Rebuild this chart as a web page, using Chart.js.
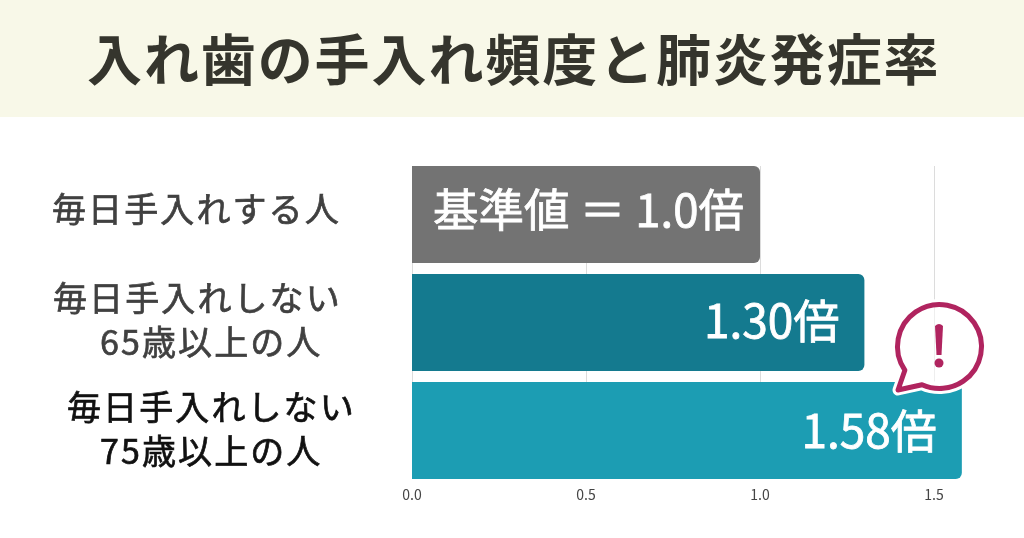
<!DOCTYPE html>
<html lang="ja">
<head>
<meta charset="utf-8">
<title>入れ歯の手入れ頻度と肺炎発症率</title>
<script src="https://cdn.jsdelivr.net/npm/chart.js@4"></script>
<style>
    html, body { margin: 0; padding: 0; background: #fff; }
    #wrap { width: 1024px; height: 538px; position: relative; }
    canvas { display: block; }
</style>
</head>
<body>
<div id="wrap"><canvas id="chart" width="1024" height="538"></canvas></div>
<script>
const titleText = '入れ歯の手入れ頻度と肺炎発症率';
const categories = [
    ['毎日手入れする人'],
    ['毎日手入れしない', '65歳以上の人'],
    ['毎日手入れしない', '75歳以上の人']
];
const values = [1.0, 1.30, 1.58];
const barColors = ['#737373', '#147a8f', '#1c9db3'];
const barLabels = ['基準値 ＝ 1.0倍', '1.30倍', '1.58倍'];
const tickValues = [0, 0.5, 1.0, 1.5];

const JP = '"Noto Sans CJK JP", "Noto Sans", sans-serif';

// 帯とタイトル
const bandPlugin = {
    id: 'band',
    beforeDraw(chart) {
        const ctx = chart.ctx;
        ctx.save();
        ctx.fillStyle = '#f8f8e8';
        ctx.fillRect(0, 0, 1024, 117);
        ctx.fillStyle = '#35352d';
        ctx.font = `700 55px ${JP}`;
        ctx.letterSpacing = '1.9px';
        ctx.textAlign = 'left';
        ctx.textBaseline = 'middle';
        ctx.fillText(titleText, 87, 59);
        ctx.restore();
    }
};

// 目盛線はバーの上端から下端まで
const gridPlugin = {
    id: 'gridClip',
    beforeDatasetsDraw(chart) {
        const ctx = chart.ctx;
        const x = chart.scales.x;
        ctx.save();
        ctx.strokeStyle = '#dcdcdc';
        ctx.lineWidth = 1;
        tickValues.forEach(v => {
            const px = Math.round(x.getPixelForValue(v)) + 0.5;
            ctx.beginPath();
            ctx.moveTo(px, 166);
            ctx.lineTo(px, 479);
            ctx.stroke();
        });
        ctx.restore();
    }
};

// カテゴリ名(行ごとに位置が違う)
const lineLefts = [[52], [53, 100], [67, 100]];
const lineShifts = [[-5], [-24, 20], [-23, 20.5]];
const lineColors = ['#404040', '#404040', '#111111'];
const categoryPlugin = {
    id: 'categoryLabels',
    afterDraw(chart) {
        const ctx = chart.ctx;
        const y = chart.scales.y;
        ctx.save();
        ctx.font = `400 34px ${JP}`;
        ctx.letterSpacing = '2.1px';
        ctx.lineWidth = 0.7;
        ctx.textAlign = 'left';
        ctx.textBaseline = 'middle';
        categories.forEach((lines, i) => {
            const cy = y.getPixelForTick(i);
            ctx.fillStyle = lineColors[i];
            ctx.strokeStyle = lineColors[i];
            lines.forEach((line, j) => {
                ctx.fillText(line, lineLefts[i][j], cy + lineShifts[i][j]);
                ctx.strokeText(line, lineLefts[i][j], cy + lineShifts[i][j]);
            });
        });
        ctx.restore();
    }
};

// バー内のラベル
const labelInsets = [16, 25, 25];
const labelShifts = [-5, -2, 0];
const labelSizes = [45.5, 46, 46];
const valueLabelPlugin = {
    id: 'valueLabels',
    afterDatasetsDraw(chart) {
        const ctx = chart.ctx;
        const bars = chart.getDatasetMeta(0).data;
        ctx.save();
        ctx.fillStyle = '#ffffff';
        ctx.strokeStyle = '#ffffff';
        ctx.lineWidth = 0.8;
        ctx.textAlign = 'right';
        ctx.textBaseline = 'middle';
        bars.forEach((bar, i) => {
            ctx.font = `400 ${labelSizes[i]}px ${JP}`;
            ctx.fillText(barLabels[i], bar.x - labelInsets[i], bar.y + labelShifts[i]);
            ctx.strokeText(barLabels[i], bar.x - labelInsets[i], bar.y + labelShifts[i]);
        });
        ctx.restore();
    }
};

// 吹き出しの「!」
const bubblePlugin = {
    id: 'bubble',
    afterDraw(chart) {
        const ctx = chart.ctx;
        const path = () => {
            ctx.beginPath();
            ctx.arc(939.5, 346.5, 42, 2.54, 2.0, false);
            ctx.lineTo(898, 390);
            ctx.closePath();
        };
        ctx.save();
        ctx.lineJoin = 'round';
        ctx.lineCap = 'round';
        path();
        ctx.fillStyle = '#ffffff';
        ctx.fill();
        ctx.strokeStyle = '#ffffff';
        ctx.lineWidth = 11;
        ctx.stroke();
        // 吹き出しの中にうっすら目盛線が透ける
        const gx = Math.round(chart.scales.x.getPixelForValue(tickValues[3])) + 0.5;
        ctx.strokeStyle = '#eeeeee';
        ctx.lineWidth = 1;
        ctx.beginPath();
        ctx.moveTo(gx, 305);
        ctx.lineTo(gx, 381);
        ctx.stroke();
        path();
        ctx.strokeStyle = '#b0245f';
        ctx.lineWidth = 5;
        ctx.stroke();
        ctx.fillStyle = '#b0245f';
        ctx.beginPath();
        ctx.moveTo(935, 326);
        ctx.quadraticCurveTo(939, 322, 943, 326);
        ctx.lineTo(941.5, 355);
        ctx.lineTo(936.5, 355);
        ctx.closePath();
        ctx.fill();
        ctx.beginPath();
        ctx.arc(939, 363, 4.5, 0, Math.PI * 2);
        ctx.fill();
        ctx.restore();
    }
};

new Chart(document.getElementById('chart'), {
    type: 'bar',
    data: {
        labels: categories,
        datasets: [{
            data: values,
            backgroundColor: barColors,
            borderRadius: { topLeft: 0, bottomLeft: 0, topRight: 6, bottomRight: 6 },
            borderSkipped: false,
            barPercentage: 0.898,
            categoryPercentage: 1
        }]
    },
    options: {
        indexAxis: 'y',
        responsive: false,
        animation: false,
        devicePixelRatio: 1,
        layout: { padding: { left: 412, right: 55.2, top: 160.5, bottom: 0 } },
        scales: {
            x: {
                min: 0,
                max: 1.6,
                afterFit(scale) { scale.height = 53.5; },
                grid: { display: false, drawTicks: false },
                border: { display: false },
                afterBuildTicks(scale) { scale.ticks = tickValues.map(v => ({ value: v })); },
                ticks: {
                    maxRotation: 0,
                    padding: 2,
                    color: '#444444',
                    font: { family: JP, size: 14, weight: '400' },
                    callback: v => v.toFixed(1)
                }
            },
            y: {
                afterFit(scale) { scale.width = 0; },
                grid: { display: false, drawTicks: false },
                border: { display: false },
                ticks: { display: false }
            }
        },
        plugins: {
            legend: { display: false },
            tooltip: { enabled: false }
        }
    },
    plugins: [bandPlugin, gridPlugin, valueLabelPlugin, categoryPlugin, bubblePlugin]
});
</script>
</body>
</html>
